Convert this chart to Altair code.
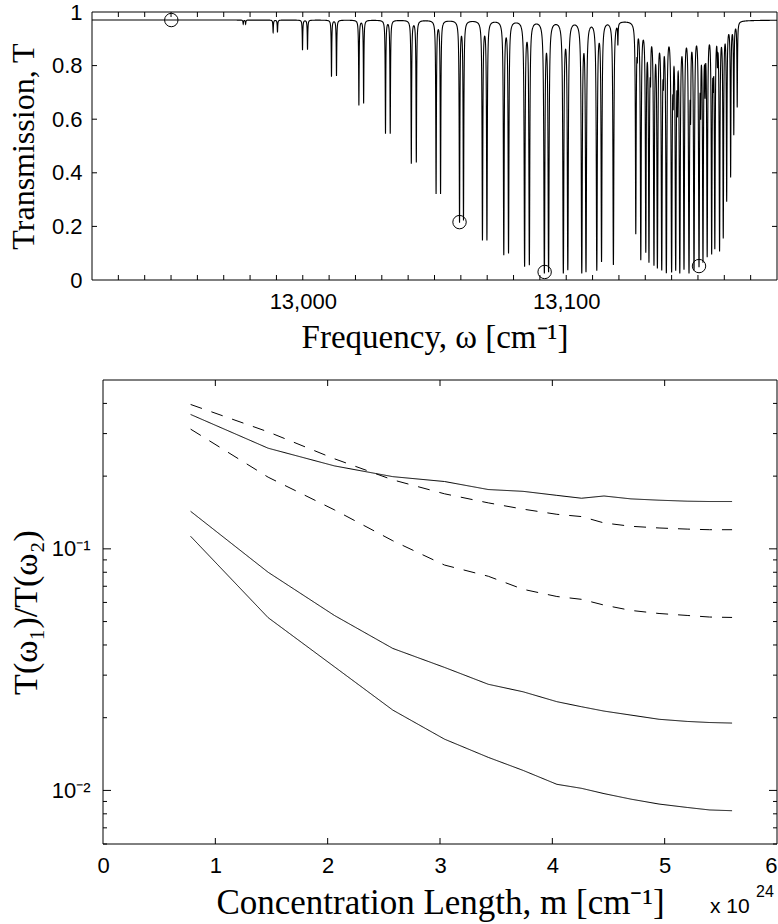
import altair as alt
import numpy as np
import pandas as pd

alt.data_transformers.disable_max_rows()

# ---------------- top panel: absorption lines ----------------
T_BASE = 0.97      # transmission between the lines
LINE_HW = 0.11     # half width of a line [cm^-1]

# P branch (doublets)
p_freq = [12977.4, 12978.3, 12988.75, 12990.4, 12999.9, 13001.8, 13010.9, 13012.8,
          13021.3, 13023.1, 13031.4, 13033.2, 13041.2, 13043.1, 13050.6, 13052.3,
          13059.5, 13061.0, 13068.2, 13069.9, 13076.3, 13078.1, 13084.2, 13086.0,
          13091.7, 13093.3, 13098.9, 13100.6, 13105.9, 13107.5, 13111.6, 13113.4,
          13117.9, 13119.6]
p_min = [0.955, 0.955, 0.924, 0.924, 0.858, 0.860, 0.759, 0.762,
         0.652, 0.660, 0.547, 0.547, 0.435, 0.440, 0.323, 0.323,
         0.216, 0.224, 0.149, 0.149, 0.093, 0.100, 0.050, 0.056,
         0.025, 0.030, 0.025, 0.037, 0.025, 0.030, 0.035, 0.068,
         0.056, 0.890]
# R branch
r_freq = [13126.4, 13128.3, 13130.2, 13131.4, 13133.3, 13134.6, 13136.25, 13138.0,
          13140.0, 13141.55, 13143.1, 13144.7, 13146.6, 13148.5, 13150.4, 13151.9,
          13153.5, 13155.2, 13156.4, 13158.2, 13159.6, 13160.9, 13162.4, 13163.6,
          13164.9]
r_min = [0.174, 0.075, 0.106, 0.068, 0.056, 0.045, 0.037, 0.026,
         0.030, 0.037, 0.026, 0.040, 0.026, 0.037, 0.050, 0.068,
         0.089, 0.100, 0.120, 0.110, 0.160, 0.300, 0.390, 0.550,
         0.650]
# weak R-branch partner lines
w_freq = [13127.0, 13132.0, 13136.9, 13140.6, 13142.2, 13147.2, 13151.0, 13152.7,
          13155.8, 13157.4]
w_min = [0.88, 0.82, 0.82, 0.76, 0.72, 0.68, 0.70, 0.76, 0.82, 0.86]

circle_freq = [12950.1, 13059.5, 13091.8, 13150.4]
circle_T = [0.970, 0.216, 0.030, 0.052]

top_x_labels = [13000, 13100]
top_x_ticks = list(range(12930, 13180, 10))
top_y_labels = [0, 0.2, 0.4, 0.6, 0.8, 1]
top_y_ticks = [0.2, 0.4, 0.6, 0.8]

# ---------------- bottom panel: ratio curves ----------------
m_vals = [0.78, 1.47, 2.06, 2.58, 3.04, 3.43, 3.74, 4.04, 4.26, 4.46, 4.70, 4.95, 5.20, 5.40, 5.60]
solid_a = [0.360, 0.261, 0.2205, 0.199, 0.190, 0.176, 0.173, 0.1665, 0.162, 0.1655, 0.161, 0.159, 0.1575, 0.157, 0.157]
dash_b = [0.396, 0.305, 0.236, 0.193, 0.169, 0.155, 0.146, 0.139, 0.136, 0.128, 0.124, 0.122, 0.1207, 0.120, 0.120]
dash_c = [0.313, 0.198, 0.145, 0.108, 0.0857, 0.077, 0.068, 0.0635, 0.0618, 0.0585, 0.0556, 0.054, 0.053, 0.0522, 0.052]
solid_d = [0.143, 0.080, 0.053, 0.0387, 0.0323, 0.0275, 0.0256, 0.0233, 0.0222, 0.0213, 0.0205, 0.0197, 0.0193, 0.0191, 0.0190]
solid_e = [0.1127, 0.0519, 0.0325, 0.0215, 0.0163, 0.0137, 0.0121, 0.0106, 0.0102, 0.0097, 0.0092, 0.00878, 0.0085, 0.0083, 0.00824]

bot_x_labels = [0, 1, 2, 3, 4, 5, 6]
bot_x_ticks = [1, 2, 3, 4, 5]
bot_y_labels = [0.01, 0.1]
bot_y_minor = [0.006, 0.007, 0.008, 0.009, 0.02, 0.03, 0.04, 0.05, 0.06, 0.07, 0.08, 0.09,
               0.2, 0.3, 0.4]

# ---------------- build the spectrum from the line list ----------------
lines_f = np.array(p_freq + r_freq + w_freq)
lines_m = np.array(p_min + r_min + w_min)
depth = np.log(T_BASE / lines_m)
grid = np.round(np.arange(12920.0, 13180.0 + 1e-9, 0.02), 2)
grid = np.unique(np.concatenate([grid, lines_f]))
prof = LINE_HW ** 2 / ((grid[:, None] - lines_f[None, :]) ** 2 + LINE_HW ** 2)
trans = T_BASE * np.exp(-(prof * depth[None, :]).sum(axis=1))
spec_df = pd.DataFrame({"f": grid, "T": np.round(trans, 4)})

# page layout: top frame 92..777 x 12..280, bottom frame 103..777 x 380..844
PAGE_W, PAGE_H = 778, 924
LEFT, TOP = 103, 12          # origin of both views (the top frame starts EXTRA px further left)
EXTRA = 11
W1, H1 = 674, 268
W2, H2 = 674, 464
GAP = 100
# an invisible diagonal rule spanning page (-AX, -AY) .. (BX, BY) fixes the bounds
AX, AY, BX, BY = 20, 28, 800, 950
LBL_FONT = "Liberation Sans"
TTL_FONT = "Liberation Serif"
one = pd.DataFrame({"d": [0]})

xs1 = alt.Scale(domain=[12920, 13180], range=[-EXTRA, W1], nice=False, zero=False)
ys1 = alt.Scale(domain=[0, 1], nice=False, zero=False)

spec = alt.Chart(spec_df).mark_line(color="black", strokeWidth=1.1).encode(
    x=alt.X("f:Q", scale=xs1,
            axis=alt.Axis(values=top_x_labels, labelExpr="format(datum.value, ',')",
                          title="Frequency, ω [cm⁻¹]",
                          labelPadding=11, titlePadding=9, titleFontSize=33)),
    y=alt.Y("T:Q", scale=ys1,
            axis=alt.Axis(values=top_y_labels, labelExpr="format(datum.value, '~g')",
                          title="Transmission, T",
                          offset=EXTRA, labelPadding=10, titlePadding=11, titleFontSize=32)),
)
circles = alt.Chart(pd.DataFrame({"f": circle_freq, "T": circle_T})).mark_point(
    shape="circle", filled=False, color="black", size=180, strokeWidth=1, opacity=1
).encode(x="f:Q", y="T:Q")

xt_df = pd.DataFrame({"f": top_x_ticks})
yt_df = pd.DataFrame({"T": top_y_ticks})
tk1 = alt.Chart(xt_df).mark_rule(color="black", strokeWidth=1).encode(
    x="f:Q", y=alt.value(H1), y2=alt.value(H1 - 5))
tk2 = alt.Chart(xt_df).mark_rule(color="black", strokeWidth=1).encode(
    x="f:Q", y=alt.value(0), y2=alt.value(5))
tk3 = alt.Chart(yt_df).mark_rule(color="black", strokeWidth=1).encode(
    y="T:Q", x=alt.value(-EXTRA), x2=alt.value(-EXTRA + 5))
tk4 = alt.Chart(yt_df).mark_rule(color="black", strokeWidth=1).encode(
    y="T:Q", x=alt.value(W1), x2=alt.value(W1 - 5))
box1 = alt.Chart(one).mark_rect(filled=False, color="black", strokeWidth=1).encode(
    x=alt.value(-EXTRA), x2=alt.value(W1), y=alt.value(0), y2=alt.value(H1))
anchor = alt.Chart(one).mark_rule(opacity=0, strokeWidth=0).encode(
    x=alt.value(-LEFT - AX), y=alt.value(-TOP - AY),
    x2=alt.value(BX - LEFT), y2=alt.value(BY - TOP))

top = alt.layer(spec, circles, tk1, tk2, tk3, tk4, box1, anchor).properties(width=W1, height=H1)

# ---------------- bottom panel ----------------
rows = []
for name, vals, style in [("a", solid_a, "solid"), ("b", dash_b, "dash"), ("c", dash_c, "dash"),
                          ("d", solid_d, "solid"), ("e", solid_e, "solid")]:
    for m, v in zip(m_vals, vals):
        rows.append({"m": m, "v": v, "s": name, "style": style})
curves_df = pd.DataFrame(rows)

xs2 = alt.Scale(domain=[0, 6], nice=False, zero=False)
ys2 = alt.Scale(type="log", domain=[0.006, 0.5], nice=False)

curves = alt.Chart(curves_df).mark_line(color="black", strokeWidth=1).encode(
    x=alt.X("m:Q", scale=xs2,
            axis=alt.Axis(values=bot_x_labels, format="d", title="Concentration Length, m [cm⁻¹]",
                          labelAlign={"condition": {"test": "datum.value >= 6", "value": "right"},
                                      "value": "center"},
                          labelPadding=11, titlePadding=9, titleFontSize=35)),
    y=alt.Y("v:Q", scale=ys2,
            axis=alt.Axis(values=bot_y_labels, title="T(ω₁)/T(ω₂)",
                          labelExpr="datum.value < 0.05 ? '10⁻²' : '10⁻¹'",
                          labelPadding=13, titlePadding=8, titleFontSize=34)),
    detail="s:N",
    strokeDash=alt.StrokeDash("style:N", scale=alt.Scale(domain=["solid", "dash"],
                                                         range=[[1, 0], [12, 10]]), legend=None),
)
bx_df = pd.DataFrame({"m": bot_x_ticks})
by_major = pd.DataFrame({"v": bot_y_labels})
by_minor = pd.DataFrame({"v": bot_y_minor})
bt1 = alt.Chart(bx_df).mark_rule(color="black").encode(
    x="m:Q", y=alt.value(H2), y2=alt.value(H2 - 6))
bt2 = alt.Chart(bx_df).mark_rule(color="black").encode(
    x="m:Q", y=alt.value(0), y2=alt.value(6))
bt3 = alt.Chart(by_major).mark_rule(color="black").encode(
    y="v:Q", x=alt.value(0), x2=alt.value(8))
bt4 = alt.Chart(by_major).mark_rule(color="black").encode(
    y="v:Q", x=alt.value(W2), x2=alt.value(W2 - 8))
bt5 = alt.Chart(by_minor).mark_rule(color="black").encode(
    y="v:Q", x=alt.value(0), x2=alt.value(4))
bt6 = alt.Chart(by_minor).mark_rule(color="black").encode(
    y="v:Q", x=alt.value(W2), x2=alt.value(W2 - 4))
box2 = alt.Chart(one).mark_rect(filled=False, color="black", strokeWidth=1).encode(
    x=alt.value(0), x2=alt.value(W2), y=alt.value(0), y2=alt.value(H2))
exp_base = alt.Chart(pd.DataFrame({"t": ["x 10"]})).mark_text(
    align="left", baseline="alphabetic", font=LBL_FONT, fontSize=21, color="black"
).encode(text="t:N", x=alt.value(607), y=alt.value(533))
exp_pow = alt.Chart(pd.DataFrame({"t": ["24"]})).mark_text(
    align="left", baseline="alphabetic", font=LBL_FONT, fontSize=16, color="black"
).encode(text="t:N", x=alt.value(653), y=alt.value(517))

bottom = alt.layer(curves, bt1, bt2, bt3, bt4, bt5, bt6, box2, exp_base, exp_pow).properties(
    width=W2, height=H2)

chart = alt.vconcat(top, bottom, spacing=GAP, bounds="flush").properties(
    padding={"left": -AX, "top": -AY, "right": PAGE_W - BX, "bottom": PAGE_H - BY},
    background="white",
).configure_view(stroke=None).configure_axis(
    labelFont=LBL_FONT, labelFontSize=22, labelColor="black",
    titleFont=TTL_FONT, titleFontWeight="normal", titleColor="black",
    ticks=False, domain=False, grid=False, labelFlush=False, labelOverlap=False,
)

chart.save("out.html", embed_options={"renderer": "svg", "actions": False})
